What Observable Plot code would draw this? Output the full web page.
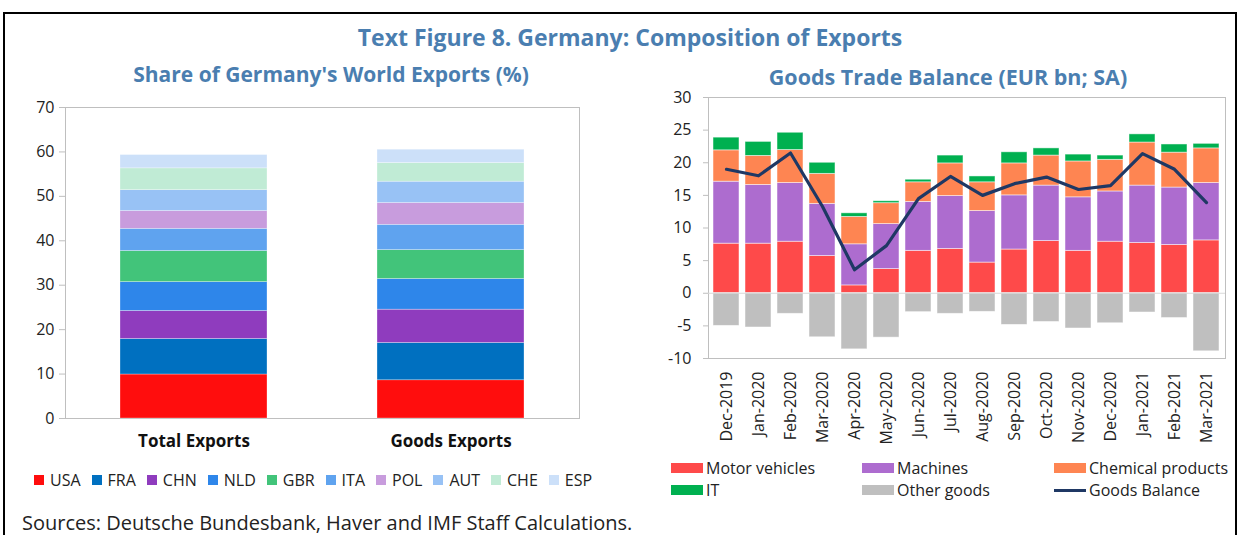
<!DOCTYPE html>
<html><head><meta charset="utf-8">
<script src="https://cdn.jsdelivr.net/npm/d3@7"></script>
<script src="https://cdn.jsdelivr.net/npm/@observablehq/plot@0.6"></script>
<style>
body{margin:0;background:#fff;font-family:"Open Sans",sans-serif;color:#222;}
#wrap{position:relative;width:1243px;height:535px;overflow:hidden;background:#fff;}
.abs{position:absolute;white-space:nowrap;}
.ttl{color:#4a7eb0;font-weight:bold;line-height:1;}
#border{position:absolute;left:3px;top:12px;width:1234px;height:600px;border:2px solid #000;box-sizing:border-box;}
.leg{display:flex;align-items:center;font-size:16px;line-height:1;}
.leg .it{display:flex;align-items:center;margin-right:11px;}
.leg .sq{width:10px;height:10px;margin-right:6px;}
.rl{position:absolute;display:flex;align-items:center;font-size:16px;line-height:1;}
.rl .sw{width:32px;height:10px;margin-right:3px;}
</style></head>
<body><div id="wrap">
<div id="border"></div>
<div class="abs ttl" style="left:0;width:1260px;text-align:center;top:26px;font-size:23px;">Text Figure 8. Germany: Composition of Exports</div>
<div class="abs ttl" style="left:131px;width:400px;text-align:center;top:64px;font-size:21px;">Share of Germany's World Exports (%)</div>
<div class="abs ttl" style="left:748px;width:400px;text-align:center;top:66px;font-size:21.5px;">Goods Trade Balance (EUR bn; SA)</div>
<div id="left" class="abs" style="left:0;top:90px;"></div>
<div id="right" class="abs" style="left:620px;top:85px;"></div>
<div id="legL" class="abs leg" style="left:34px;top:472px;"></div>
<div id="legR"></div>
<div class="abs" style="left:22px;top:513px;font-size:20px;line-height:1;">Sources: Deutsche Bundesbank, Haver and IMF Staff Calculations.</div>
</div>
<script>
// ---------- Left chart data ----------
const shareCategories = ["Total Exports", "Goods Exports"];
const countries = ["USA", "FRA", "CHN", "NLD", "GBR", "ITA", "POL", "AUT", "CHE", "ESP"];
const totalShares = [9.9, 8.0, 6.3, 6.5, 7.0, 5.0, 4.0, 4.7, 4.9, 3.0];
const goodsShares = [8.6, 8.4, 7.5, 6.9, 6.5, 5.7, 4.9, 4.8, 4.2, 3.0];
const countryColors = ["#ff0d0d", "#0070c0", "#8f3cbe", "#2e86ea", "#42c47a", "#5fa3ef", "#c89cdd", "#98c2f5", "#c0ebd5", "#cce0f9"];
const leftTicks = [0, 10, 20, 30, 40, 50, 60, 70];

// ---------- Right chart data ----------
const months = ["Dec-2019", "Jan-2020", "Feb-2020", "Mar-2020", "Apr-2020", "May-2020", "Jun-2020", "Jul-2020",
  "Aug-2020", "Sep-2020", "Oct-2020", "Nov-2020", "Dec-2020", "Jan-2021", "Feb-2021", "Mar-2021"];
const goodsSeries = ["Motor vehicles", "Machines", "Chemical products", "IT", "Other goods"];
const motorVehicles = [7.6, 7.6, 7.9, 5.7, 1.2, 3.7, 6.5, 6.8, 4.7, 6.7, 8.0, 6.5, 7.9, 7.7, 7.4, 8.1];
const machines = [9.5, 9.0, 9.0, 8.0, 6.3, 6.9, 7.5, 8.1, 7.9, 8.3, 8.5, 8.2, 7.7, 8.8, 8.8, 8.8];
const chemicalProducts = [4.8, 4.45, 5.05, 4.6, 4.2, 3.2, 3.0, 5.0, 4.4, 4.9, 4.6, 5.5, 4.85, 6.6, 5.35, 5.3];
const itGoods = [1.95, 2.15, 2.65, 1.7, 0.55, 0.3, 0.4, 1.2, 0.9, 1.7, 1.1, 1.05, 0.65, 1.25, 1.25, 0.7];
const otherGoods = [-5.0, -5.25, -3.15, -6.75, -8.6, -6.8, -2.9, -3.15, -2.85, -4.85, -4.4, -5.4, -4.6, -2.95, -3.8, -8.9];
const goodsBalance = [19.0, 18.0, 21.5, 13.3, 3.6, 7.3, 14.5, 17.9, 15.0, 16.8, 17.8, 15.9, 16.5, 21.4, 19.0, 13.9];
const goodsColors = ["#fe4a4a", "#ad6ccf", "#fe8552", "#00b050", "#bfbfbf"];
const balanceName = "Goods Balance";
const balanceColor = "#1f3864";
const rightTicks = [-10, -5, 0, 5, 10, 15, 20, 25, 30];

const font = {fontFamily: "'Open Sans', sans-serif", fontSize: "16px", color: "#222", background: "transparent", overflow: "visible"};

// ----- left -----
const shareRows = [];
[totalShares, goodsShares].forEach((arr, i) => arr.forEach((v, j) => shareRows.push({cat: shareCategories[i], country: countries[j], value: v})));

const left = Plot.plot({
  width: 600, height: 370,
  marginLeft: 65, marginRight: 21, marginTop: 17, marginBottom: 42,
  style: font,
  x: {domain: shareCategories, paddingInner: 0.428, paddingOuter: 0.214, label: null},
  y: {domain: [0, 70], label: null},
  color: {domain: countries, range: countryColors},
  marks: [
    Plot.frame({stroke: "#bfbfbf"}),
    Plot.barY(shareRows, {x: "cat", y: "value", fill: "country", stroke: "#ffffff", strokeOpacity: 0.5, strokeWidth: 0.6}),
    Plot.axisY({ticks: leftTicks, tickSize: 6, tickPadding: 5, stroke: "#bfbfbf", fill: "#222", fontSize: 16, label: null}),
    Plot.axisX({tickSize: 0, tickPadding: 16, fontSize: 17, fontWeight: "bold", fill: "#111", label: null})
  ]
});
document.getElementById("left").appendChild(left);

// ----- right -----
const goodsArrays = [motorVehicles, machines, chemicalProducts, itGoods, otherGoods];
const goodsRows = [];
months.forEach((m, i) => goodsArrays.forEach((arr, j) => goodsRows.push({month: m, series: goodsSeries[j], value: arr[i]})));
const balanceRows = months.map((m, i) => ({month: m, value: goodsBalance[i]}));

const right = Plot.plot({
  width: 623, height: 370,
  marginLeft: 88, marginRight: 18, marginTop: 12, marginBottom: 97,
  style: font,
  x: {domain: months, paddingInner: 0.173, paddingOuter: 0.087, label: null},
  y: {domain: [-10, 30], label: null},
  color: {domain: goodsSeries, range: goodsColors},
  marks: [
    Plot.frame({stroke: "#bfbfbf"}),
    Plot.barY(goodsRows, {x: "month", y: "value", fill: "series", stroke: "#ffffff", strokeOpacity: 0.6, strokeWidth: 0.8}),
    Plot.ruleY([0], {stroke: "#d9d9d9", strokeWidth: 1.2}),
    Plot.lineY(balanceRows, {x: "month", y: "value", stroke: balanceColor, strokeWidth: 3.2}),
    Plot.axisY({ticks: rightTicks, tickFormat: d => String(d), tickSize: 5, tickPadding: 12, stroke: "#bfbfbf", fill: "#222", fontSize: 16, label: null}),
    Plot.axisX({tickRotate: -90, tickSize: 0, tickPadding: 13, fontSize: 16, fill: "#222", label: null})
  ]
});
document.getElementById("right").appendChild(right);

// ----- legends -----
const legL = document.getElementById("legL");
countries.forEach((c, i) => {
  const it = document.createElement("div"); it.className = "it";
  it.innerHTML = `<span class="sq" style="background:${countryColors[i]}"></span><span>${c}</span>`;
  legL.appendChild(it);
});
const legR = document.getElementById("legR");
const order = goodsSeries.map((s, i) => ({name: s, color: goodsColors[i], line: false}));
order.push({name: balanceName, color: balanceColor, line: true});
const colX = [671, 862, 1054];
const rowY = [460, 482];
order.forEach((it, k) => {
  const d = document.createElement("div"); d.className = "rl";
  d.style.left = colX[k % 3] + "px"; d.style.top = rowY[Math.floor(k / 3)] + "px";
  const sw = it.line ? `<span class="sw" style="height:3px;background:${it.color}"></span>` : `<span class="sw" style="background:${it.color}"></span>`;
  d.innerHTML = sw + `<span>${it.name}</span>`;
  legR.appendChild(d);
});
</script>
</body></html>
